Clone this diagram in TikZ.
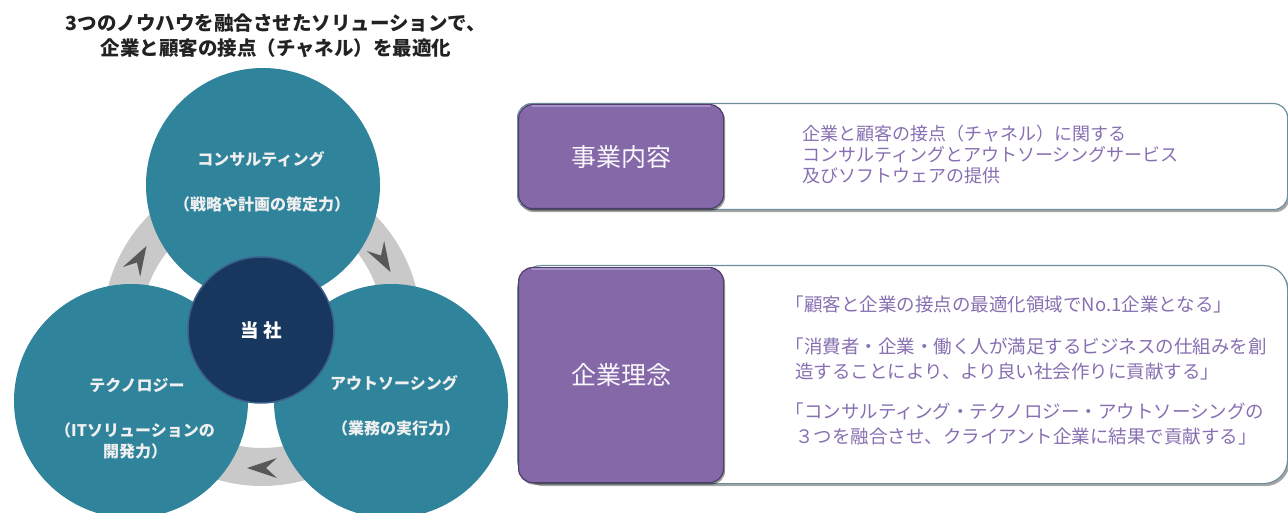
\documentclass[tikz,border=0pt]{standalone}
\usepackage{fontspec}
\setmainfont{Noto Sans CJK JP}
\usetikzlibrary{shadows}
\definecolor{tealc}{HTML}{2F839B}
\definecolor{navyc}{HTML}{17375E}
\definecolor{navyedge}{HTML}{3B5E8C}
\definecolor{ringc}{HTML}{C9C9C9}
\definecolor{arrowc}{HTML}{585858}
\definecolor{purpc}{HTML}{8468A8}
\definecolor{purplight}{HTML}{A891CB}
\definecolor{purpdark}{HTML}{4E3E68}
\definecolor{purptext}{HTML}{8770B2}
\definecolor{boxedge}{HTML}{6F8E9C}
\definecolor{titlec}{HTML}{222222}
\begin{document}
\begin{tikzpicture}[x=1pt,y=-1pt,
  tealcirc/.style={circle, fill=tealc, minimum size=234pt, inner sep=0pt},
  navycirc/.style={circle, fill=navyc, draw=navyedge, line width=1.5pt, minimum size=146pt, inner sep=0pt, text=white, font=\bfseries\fontsize{18.5}{22}\selectfont},
  clabel/.style={inner sep=0pt, text=white!94!black, font=\bfseries\fontsize{16}{21}\selectfont, align=center},
  ttl/.style={inner sep=0pt, text=titlec, font=\bfseries\fontsize{19.5}{25}\selectfont, align=center},
  outerbox/.style={draw=boxedge, line width=1.2pt, fill=white, anchor=north west, inner sep=0pt, minimum width=770pt, drop shadow={shadow xshift=2pt, shadow yshift=-2.5pt, fill=black, opacity=0.35}},
  purpbox/.style={draw=purpdark, line width=1.2pt, fill=purpc, anchor=north west, inner sep=0pt, rounded corners=14pt, minimum width=205pt, text=white!95!purpc, font=\fontsize{25}{30}\selectfont, drop shadow={shadow xshift=1.5pt, shadow yshift=-2pt, fill=black, opacity=0.4}},
  highlight/.style={draw=purplight, line width=2pt, line cap=round},
  bodytext/.style={inner sep=0pt, anchor=west, align=left, text=purptext},
  chevron/.style={fill=arrowc}
]
\useasboundingbox (0,0) rectangle (1288,513);
\fill[white] (0,0) rectangle (1288,513);

% title
\node[ttl] (title) at (276,35.5) {3つのノウハウを融合させたソリューションで、\\企業と顧客の接点（チャネル）を最適化};

% ring with arrows
\coordinate (ringc) at (262,327);
\fill[ringc, even odd rule] (ringc) circle[radius=159] (ringc) circle[radius=121];
\fill[chevron, shift={(139,259)}, rotate=60] (15,0) -- (-15,10) -- (-4,0) -- (-15,-10) -- cycle;
\fill[chevron, shift={(383,259)}, rotate=-60] (15,0) -- (-15,10) -- (-4,0) -- (-15,-10) -- cycle;
\fill[chevron, shift={(262,468)}, rotate=180] (15,0) -- (-15,10) -- (-4,0) -- (-15,-10) -- cycle;

% circles
\node[tealcirc] (cons) at (263,185) {};
\node[tealcirc] (tech) at (131,401) {};
\node[tealcirc] (outs) at (391,401) {};
\node[navycirc] (us) at (261,330) {当 社};

\node[clabel] (consa) at (261,159) {コンサルティング};
\node[clabel] (consb) at (262,204) {（戦略や計画の策定力）};
\node[clabel] (techa) at (137,385) {テクノロジー};
\node[clabel] (techb) at (135,440.5) {（ITソリューションの\\開発力）};
\node[clabel] (outsa) at (394,383) {アウトソーシング};
\node[clabel] (outsb) at (396,428) {（業務の実行力）};

% right boxes
\node[outerbox, rounded corners=14pt, minimum height=106pt] (box1) at (517,103) {};
\node[purpbox, minimum height=104pt] (tag1) at (518,104) {事業内容};
\draw[highlight] ([xshift=14pt,yshift=-2pt]tag1.north west) -- ([xshift=-14pt,yshift=-2pt]tag1.north east);
\node[bodytext, font=\fontsize{18}{21}\selectfont] (text1) at (802,154.5)
  {企業と顧客の接点（チャネル）に関する\\コンサルティングとアウトソーシングサービス\\及びソフトウェアの提供};

\node[outerbox, rounded corners=24pt, minimum height=218pt] (box2) at (517,265) {};
\node[purpbox, minimum height=215pt] (tag2) at (518,267) {企業理念};
\draw[highlight] ([xshift=14pt,yshift=-2pt]tag2.north west) -- ([xshift=-14pt,yshift=-2pt]tag2.north east);
\node[bodytext, font=\fontsize{18.5}{25}\selectfont] (text2) at (795,370)
  {\kern-0.5em「顧客と企業の接点の最適化領域でNo.1企業となる」\\[17pt]
   \kern-0.5em「消費者・企業・働く人が満足するビジネスの仕組みを創\\
   造することにより、より良い社会作りに貢献する」\\[15pt]
   \kern-0.5em「コンサルティング・テクノロジー・アウトソーシングの\\
   ３つを融合させ、クライアント企業に結果で貢献する」};
\end{tikzpicture}
\end{document}
